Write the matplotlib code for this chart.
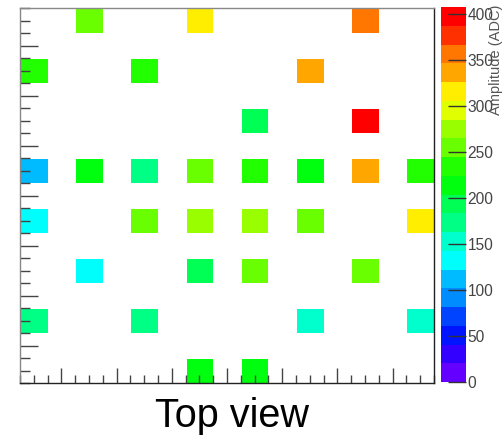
import numpy as np
import matplotlib
matplotlib.use("Agg")
import matplotlib.pyplot as plt
from matplotlib.colors import ListedColormap, BoundaryNorm
import colorsys

# ---- data (8x8 read-out grid, rows top->bottom, cols left->right; NaN = empty)
x_centers = [-7, -5, -3, -1, 1, 3, 5, 7]
y_centers = [7, 5, 3, 1, -1, -3, -5, -7]
nan = np.nan
row0 = [nan, 255, nan, 316, nan, nan, 357, nan]
row1 = [235, nan, 235, nan, nan, 337, nan, nan]
row2 = [nan, nan, nan, nan, 194, nan, 405, nan]
row3 = [112, 214, 173, 255, 235, 214, 337, 235]
row4 = [133, nan, 255, 275, 275, 255, nan, 316]
row5 = [nan, 133, nan, 194, 255, nan, 255, nan]
row6 = [173, nan, 173, nan, nan, 153, nan, 153]
row7 = [nan, nan, nan, 214, 214, nan, nan, nan]
amplitudes = [row0, row1, row2, row3, row4, row5, row6, row7]

z_max = 408
n_levels = 20
cbar_ticks = [0, 50, 100, 150, 200, 250, 300, 350, 400]
cbar_label = "Amplitude (ADC)"
title = "Top view"

# ---- ROOT-like "pretty" palette sampled for 20 contours
pal = []
for i in range(50):
    hue = 280 - (i + 1) * (280 / 50)
    pal.append(colorsys.hls_to_rgb(hue / 360.0, 0.5, 1.0))
cols = [pal[int((k + 0.99) * 50 / n_levels)] for k in range(n_levels)]
cmap = ListedColormap(cols)
cmap.set_bad((1, 1, 1, 0))
bounds = np.linspace(0, z_max, n_levels + 1)
norm = BoundaryNorm(bounds, cmap.N)

# build a 15x15 binned histogram (pitch 1, cells on even bins)
edges = np.arange(-7.5, 8.5, 1.0)
Z = np.full((15, 15), np.nan)
for r, yc in enumerate(y_centers):
    for c, xc in enumerate(x_centers):
        Z[int(yc + 7), int(xc + 7)] = amplitudes[r][c]

plt.rcParams['font.family'] = ['Liberation Sans', 'DejaVu Sans']
fig = plt.figure(figsize=(5.04, 4.38), dpi=100)
W, H = 504, 438
ax = fig.add_axes([20 / W, (H - 383) / H, (434 - 20) / W, (383 - 8) / H])
mesh = ax.pcolormesh(edges, edges, np.ma.masked_invalid(Z), cmap=cmap, norm=norm,
                     edgecolors='white', linewidth=0.6)
ax.set_xlim(-7.5, 7.5)
ax.set_ylim(-7.5, 7.5)

ax.set_xticks(np.arange(-6, 7, 2))
ax.set_yticks(np.arange(-6, 7, 2))
ax.set_xticks(np.arange(-7.5, 7.6, 0.5), minor=True)
ax.set_yticks(np.arange(-7.5, 7.6, 0.5), minor=True)
ax.tick_params(which='both', direction='in', labelbottom=False, labelleft=False,
               top=False, right=False, color='#444444', width=1)
ax.tick_params(axis='x', which='major', length=11)
ax.tick_params(axis='x', which='minor', length=6)
ax.tick_params(axis='y', which='major', length=13)
ax.tick_params(axis='y', which='minor', length=7)
for s in ['left', 'top']:
    ax.spines[s].set_color('#888888')
for s in ['right', 'bottom']:
    ax.spines[s].set_color('#222222')
for s in ax.spines.values():
    s.set_linewidth(1.0)
    s.set_zorder(5)

cax = fig.add_axes([441 / W, (H - 382) / H, (466 - 441) / W, (382 - 7) / H])
cb = fig.colorbar(mesh, cax=cax, boundaries=bounds, ticks=cbar_ticks)
cb.outline.set_visible(False)
cax.yaxis.set_ticks_position('right')
cax.tick_params(direction='in', length=13, width=1, color='#333333', pad=1,
                labelsize=11.2, labelcolor='#444444')
cax.minorticks_off()

fig.text(496 / W, (H - 5) / H, cbar_label, rotation=90, ha='center', va='top',
         fontsize=10.5, color='#555555')
fig.text(232 / W, (H - 416) / H, title, ha='center', va='center',
         fontsize=28.5, color='black')

fig.savefig("out.png", dpi=100)
